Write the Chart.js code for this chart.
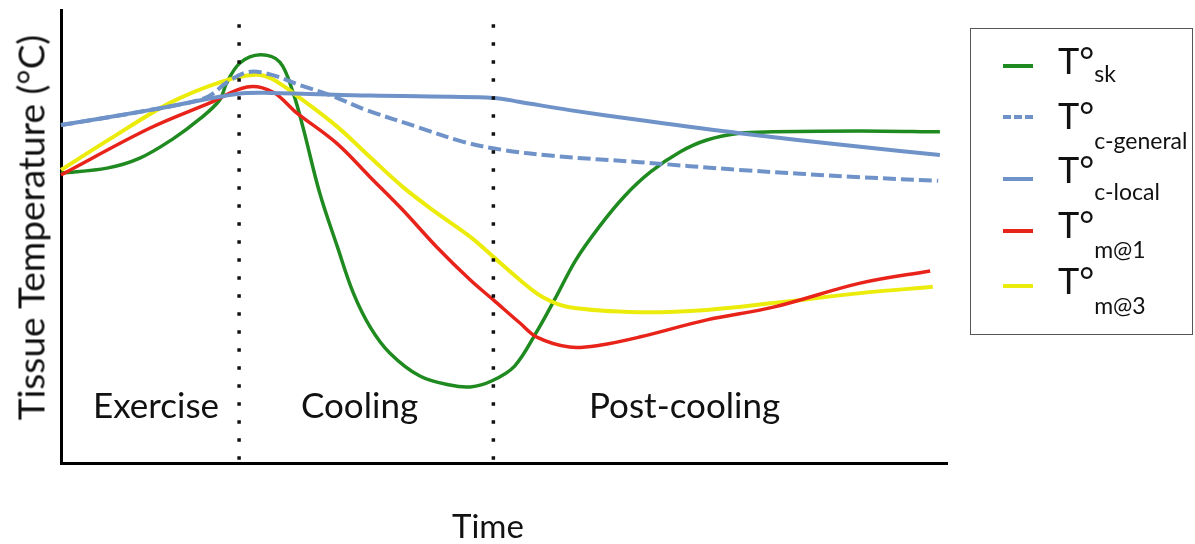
<!DOCTYPE html>
<html lang="en">
<head>
  <meta charset="UTF-8" />
  <title>Tissue Temperature</title>
  <script src="https://cdn.jsdelivr.net/npm/chart.js"></script>
  <style>
    body { margin: 0; background: #fff; font-family: 'Lato', sans-serif; color: #111; }
    .wrap { position: relative; width: 1195px; height: 544px; overflow: hidden; }
    .chartBox { position: absolute; left: 0; top: 0; width: 1195px; height: 544px; }
    .txt { position: absolute; line-height: 1; white-space: nowrap; }
    .phase { font-size: 35px; top: 387px; }
    #yTitle { font-size: 37px; width: 440px; left: -190px; top: 209px; text-align: center; transform: rotate(-90deg); }
    #xTitle { font-size: 33px; left: 452px; top: 509px; }
    #legend { position: absolute; left: 970px; top: 28px; width: 221px; height: 305px; border: 1.5px solid #555; }
    .swatch { position: absolute; left: 32px; width: 30px; height: 0; border-top: 4px solid; }
    .entry { position: absolute; left: 87px; font-size: 36px; line-height: 1; white-space: nowrap; }
    .entry sub { font-size: 23px; vertical-align: baseline; position: relative; }
  </style>
</head>
<body>
  <div class="wrap">
    <div class="chartBox"><canvas id="chart"></canvas></div>
    <div class="txt" id="yTitle">Tissue Temperature (°C)</div>
    <div class="txt" id="xTitle">Time</div>
    <div class="txt phase" style="left:93px">Exercise</div>
    <div class="txt phase" style="left:301px">Cooling</div>
    <div class="txt phase" style="left:589px">Post-cooling</div>
    <div id="legend"></div>
  </div>

  <script>
    // time in % of the whole session, temperature in relative units (0-100)
    const skTime = [0, 5.2, 8.9, 12.6, 15.7, 17.9, 18.7, 20.2, 22.5, 24.7, 26.2, 27.3, 29.2, 31.2, 33.0, 34.9, 37.1, 40.5, 43.9, 46.2, 48.6, 51.2, 53.7, 55.8, 58.1, 60.8, 63.6, 66.5, 69.9, 72.9, 76.6, 80.4, 90.2, 99.2];
    const skTemp = [64.0, 65.1, 67.3, 71.5, 76.0, 80.1, 83.9, 88.3, 90.1, 88.5, 81.7, 74.2, 59.6, 47.7, 37.5, 30.0, 24.3, 19.2, 17.2, 16.8, 18.1, 21.4, 29.0, 36.4, 44.8, 52.3, 58.9, 64.2, 68.7, 71.3, 72.8, 73.1, 73.3, 73.1];

    const cGenTime = [0, 10.0, 16.3, 18.8, 21.1, 23.6, 27.0, 30.4, 34.5, 40.5, 45.4, 49.9, 55.5, 65.3, 76.6, 90.2, 99.0];
    const cGenTemp = [74.6, 77.9, 80.6, 84.1, 86.3, 85.8, 83.4, 81.2, 77.9, 74.0, 70.9, 69.1, 67.8, 66.4, 64.7, 63.1, 62.3];

    const cLocTime = [0, 10.0, 20.0, 23.6, 34.9, 48.8, 51.8, 57.4, 65.3, 76.6, 90.2, 99.2];
    const cLocTemp = [74.6, 77.9, 81.5, 81.7, 81.1, 80.6, 79.7, 77.9, 75.7, 72.8, 69.8, 68.0];

    const m1Time = [0, 10.0, 16.8, 21.0, 23.9, 26.6, 31.1, 34.9, 38.6, 42.4, 46.2, 48.8, 51.8, 53.7, 57.4, 60.8, 65.3, 72.9, 80.4, 90.2, 98.1];
    const m1Temp = [63.6, 73.9, 79.5, 83.0, 81.9, 77.3, 70.6, 63.1, 55.8, 47.7, 40.4, 36.0, 30.9, 27.8, 25.6, 26.0, 27.8, 31.6, 34.4, 39.7, 42.4];

    const m3Time = [0, 5.5, 12.3, 18.0, 21.9, 23.8, 27.3, 31.2, 34.9, 38.6, 42.4, 46.2, 48.8, 51.8, 54.4, 57.4, 65.3, 72.9, 80.4, 90.2, 98.4];
    const m3Temp = [64.7, 71.5, 79.5, 84.1, 85.7, 84.8, 80.1, 74.2, 67.5, 60.9, 55.2, 49.9, 45.5, 40.4, 36.6, 34.4, 33.3, 33.8, 35.3, 37.5, 38.9];

    // phase boundaries (end of exercise, end of cooling)
    const phaseBounds = [20.1, 48.8];

    const legendSubs = ['sk', 'c-general', 'c-local', 'm@1', 'm@3'];
    const colors = ['#1f8a1f', '#6f93c8', '#6f93c8', '#e8231a', '#ecec0c'];

    function pts(xs, ys) {
      return xs.map((x, i) => ({ x: x, y: ys[i] }));
    }

    const curves = [
      { data: pts(cLocTime, cLocTemp), borderColor: colors[2], borderWidth: 4 },
      { data: pts(cGenTime, cGenTemp), borderColor: colors[1], borderWidth: 4, borderDash: [13, 5] },
      { data: pts(m1Time, m1Temp), borderColor: colors[3], borderWidth: 3.5 },
      { data: pts(m3Time, m3Temp), borderColor: colors[4], borderWidth: 4 },
      { data: pts(skTime, skTemp), borderColor: colors[0], borderWidth: 3.5 }
    ];
    curves.forEach(c => {
      c.pointRadius = 0;
      c.fill = false;
      c.tension = 0.35;
    });

    const dividers = phaseBounds.map(b => ({
      data: [{ x: b, y: 0.7 }, { x: b, y: 99.6 }],
      borderColor: '#111',
      borderWidth: 3.5,
      borderDash: [3.5, 14.5],
      pointRadius: 0,
      fill: false
    }));

    new Chart(document.getElementById('chart'), {
      type: 'line',
      data: { datasets: dividers.concat(curves) },
      options: {
        responsive: true,
        maintainAspectRatio: false,
        animation: false,
        clip: false,
        layout: { padding: { left: 61, top: 10, right: 248, bottom: 81 } },
        plugins: { legend: { display: false }, tooltip: { enabled: false } },
        scales: {
          x: {
            type: 'linear', min: 0, max: 100,
            grid: { display: false, drawTicks: false },
            ticks: { display: false },
            border: { display: true, color: '#000', width: 3 }
          },
          y: {
            min: 0, max: 100,
            grid: { display: false, drawTicks: false },
            ticks: { display: false },
            border: { display: true, color: '#000', width: 3 }
          }
        }
      }
    });

    // legend with subscripts
    const legend = document.getElementById('legend');
    const textTops = [13, 68, 122, 177, 233];
    const swatchY = [37, 88, 150, 202, 257];
    const subShift = [8, 20, 17, 20, 20];
    legendSubs.forEach((s, i) => {
      const sw = document.createElement('div');
      sw.className = 'swatch';
      sw.style.top = (swatchY[i] - 2) + 'px';
      sw.style.borderTopColor = colors[i];
      if (i === 1) sw.style.borderTopStyle = 'dashed';
      legend.appendChild(sw);
      const e = document.createElement('div');
      e.className = 'entry';
      e.style.top = textTops[i] + 'px';
      e.innerHTML = 'T°<sub style="top:' + subShift[i] + 'px">' + s + '</sub>';
      legend.appendChild(e);
    });
  </script>
</body>
</html>
